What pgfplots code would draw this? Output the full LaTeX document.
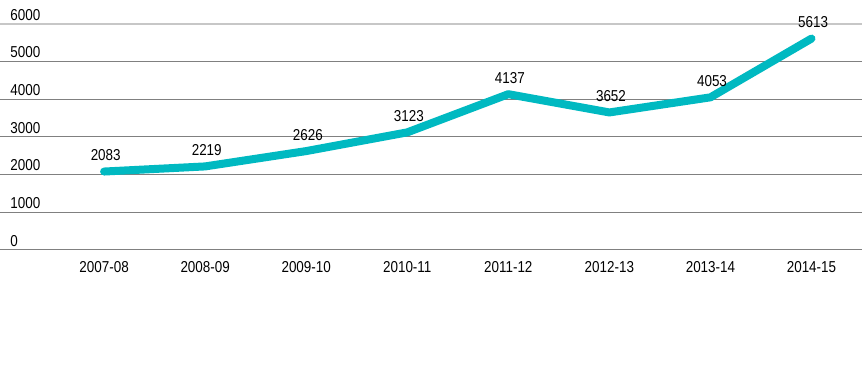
\documentclass[border=0pt]{standalone}
\usepackage{fontspec}
\setmainfont{Liberation Sans}[FakeStretch=0.85]
\usepackage{pgfplots}
\pgfplotsset{compat=1.18}
\definecolor{lineteal}{HTML}{00B9C1}
\begin{document}
\begin{tikzpicture}
\useasboundingbox (0,0) rectangle (431pt,192pt);
\begin{axis}[
  at={(0pt,67pt)}, anchor=south west,
  scale only axis, width=431pt, height=113pt,
  xmin=-1.03, xmax=7.5, ymin=0, ymax=6000,
  axis line style={draw=none},
  clip=false,
  font=\fontsize{7.9pt}{9pt}\selectfont,
  /pgf/number format/assume math mode=true,
  ytick={0,1000,2000,3000,4000,5000},
  extra y ticks={6000},
  extra y tick style={grid style={color=black!22, line width=1pt}},
  ymajorgrids, grid style={color=black!50, line width=0.5pt},
  major tick length=0pt,
  tick style={draw=none},
  yticklabel style={anchor=south west, inner xsep=0pt, inner ysep=1.6pt, xshift=5pt},
  xtick={0,...,7},
  xticklabels={2007-08,2008-09,2009-10,2010-11,2011-12,2012-13,2013-14,2014-15},
  xticklabel style={yshift=-2pt},
  yticklabel={\pgfmathprintnumber[fixed,1000 sep={}]{\tick}},
  nodes near coords,
  nodes near coords style={anchor=south, yshift=0pt, xshift=0.8pt, text=black, font=\fontsize{7.9pt}{9pt}\selectfont},
  point meta=explicit symbolic,
]
\addplot[color=lineteal, line width=4pt, line cap=round, line join=round, mark=none]
  table[meta=lab] {
  x y lab
  0 2083 2083
  1 2219 2219
  2 2626 2626
  3 3123 3123
  4 4137 4137
  5 3652 3652
  6 4053 4053
  7 5613 5613
  };
\end{axis}
\end{tikzpicture}
\end{document}
